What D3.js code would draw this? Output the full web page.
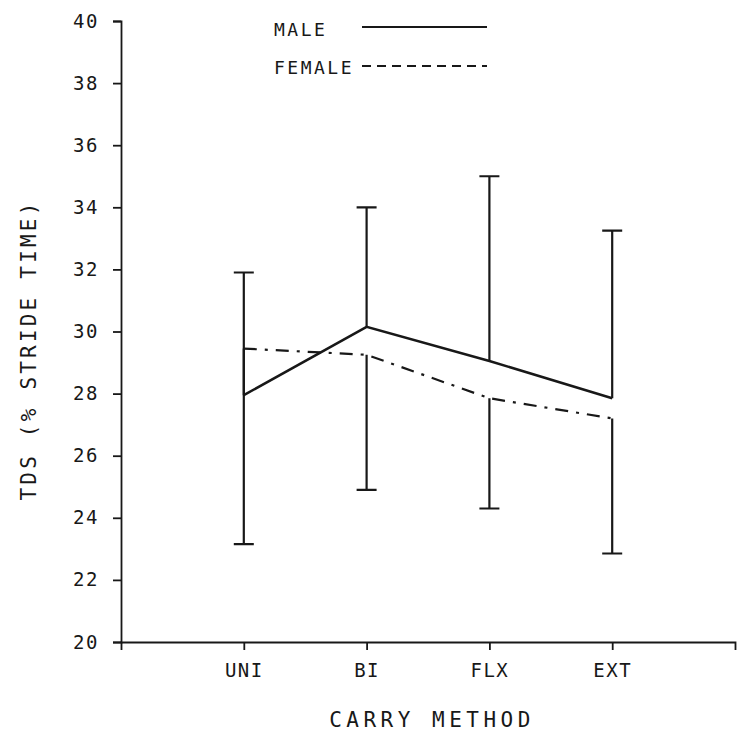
<!DOCTYPE html>
<html>
<head>
<meta charset="utf-8">
<script src="https://cdn.jsdelivr.net/npm/d3@7"></script>
<style>
  body { margin: 0; background: #fff; }
</style>
</head>
<body>
<script>
// Data
const categories = ["UNI", "BI", "FLX", "EXT"];
const maleMean = [27.95, 30.15, 29.05, 27.85];
const maleUpper = [31.9, 34.0, 35.0, 33.25];
const femaleMean = [29.45, 29.25, 27.85, 27.2];
const femaleLower = [23.15, 24.9, 24.3, 22.85];
const yTicks = [20, 22, 24, 26, 28, 30, 32, 34, 36, 38, 40];

const width = 751;
const height = 745;
const ink = "#181818";
const font = "'DejaVu Sans Mono', monospace";

const svg = d3.select("body").append("svg")
    .attr("width", width)
    .attr("height", height)
    .style("font-family", font);

// categories sit at 1..4 on a 0..5 axis
const x = d3.scaleLinear().domain([0, 5]).range([121, 735]);
const y = d3.scaleLinear().domain([20, 40]).range([642, 21]);

const rows = categories.map((c, i) => ({
    c, i: i + 1,
    m: maleMean[i], mu: maleUpper[i],
    f: femaleMean[i], fl: femaleLower[i]
}));

// --- AXES ---
svg.append("g")
    .attr("transform", `translate(${x(0)},0)`)
    .call(d3.axisLeft(y).tickValues(yTicks).tickSize(8).tickSizeOuter(8).tickPadding(14));

svg.append("g")
    .attr("transform", `translate(0,${y(20)})`)
    .call(d3.axisBottom(x).tickValues([1, 2, 3, 4])
        .tickFormat(d => categories[d - 1])
        .tickSize(8).tickSizeOuter(8).tickPadding(14));

svg.selectAll(".domain, .tick line")
    .attr("stroke", ink)
    .attr("stroke-width", 1.8);

svg.selectAll(".tick text")
    .attr("fill", ink)
    .style("font-family", font)
    .style("font-size", "19px")
    .style("letter-spacing", "1.5px");

// axis titles
svg.append("text")
    .attr("transform", `translate(36,350) rotate(-90)`)
    .attr("text-anchor", "middle")
    .attr("fill", ink)
    .style("font-size", "21px")
    .style("letter-spacing", "3.2px")
    .text("TDS (% STRIDE TIME)");

svg.append("text")
    .attr("x", 432)
    .attr("y", 727)
    .attr("text-anchor", "middle")
    .attr("fill", ink)
    .style("font-size", "21px")
    .style("letter-spacing", "4.5px")
    .text("CARRY METHOD");

// --- ERROR BARS ---
const cap = 10;
const bars = svg.append("g")
    .attr("stroke", ink)
    .attr("stroke-width", 2.2)
    .attr("fill", "none");

// male bars go up from the mean, female bars go down
bars.selectAll(".mbar")
    .data(rows)
    .join("path")
    .attr("d", d => `M${x(d.i)},${y(d.m)}V${y(d.mu)}M${x(d.i) - cap},${y(d.mu)}H${x(d.i) + cap}`);

bars.selectAll(".fbar")
    .data(rows)
    .join("path")
    .attr("d", d => `M${x(d.i)},${y(d.f)}V${y(d.fl)}M${x(d.i) - cap},${y(d.fl)}H${x(d.i) + cap}`);

// --- MEAN LINES ---
const line = d3.line().x(d => x(d.i));

svg.append("path")
    .datum(rows)
    .attr("fill", "none")
    .attr("stroke", ink)
    .attr("stroke-width", 2.5)
    .attr("d", line.y(d => y(d.m)));

svg.append("path")
    .datum(rows)
    .attr("fill", "none")
    .attr("stroke", ink)
    .attr("stroke-width", 2.2)
    .attr("stroke-dasharray", "13,8,3,8")
    .attr("d", line.y(d => y(d.f)));

// --- LEGEND ---
const legend = svg.append("g")
    .attr("fill", ink)
    .style("font-size", "18px")
    .style("letter-spacing", "2.5px");

legend.append("text").attr("x", 274).attr("y", 36).text("MALE");
legend.append("line")
    .attr("x1", 362).attr("x2", 487).attr("y1", 27).attr("y2", 27)
    .attr("stroke", ink).attr("stroke-width", 2.2);

legend.append("text").attr("x", 274).attr("y", 74).text("FEMALE");
legend.append("line")
    .attr("x1", 362).attr("x2", 487).attr("y1", 66).attr("y2", 66)
    .attr("stroke", ink).attr("stroke-width", 2.2)
    .attr("stroke-dasharray", "9,6");
</script>
</body>
</html>
